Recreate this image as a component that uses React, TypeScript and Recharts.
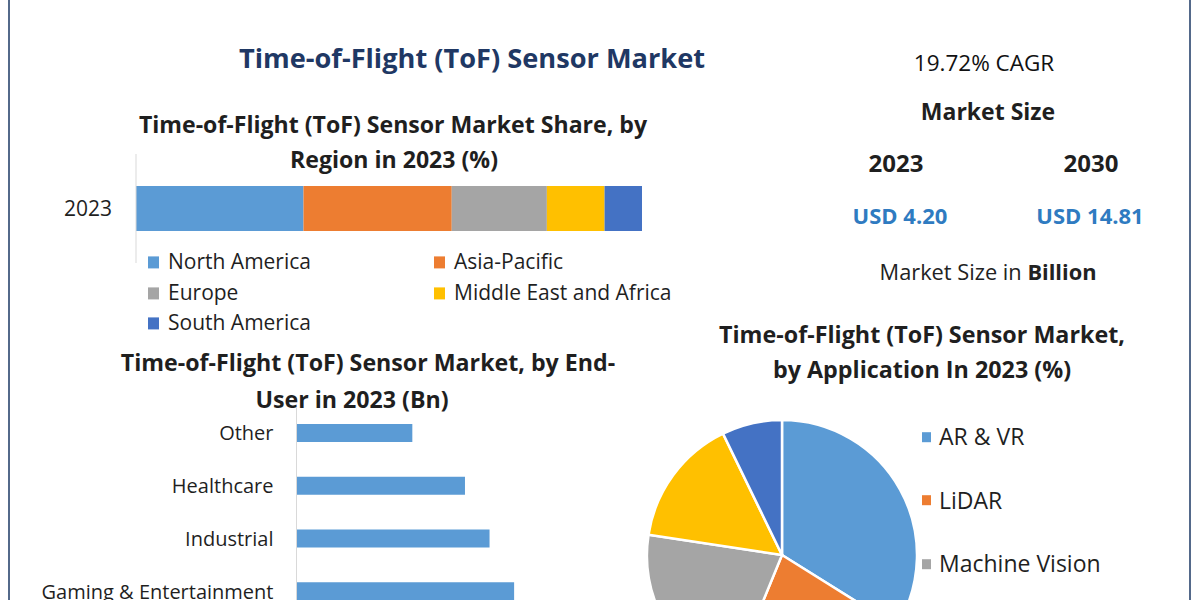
import { BarChart, Bar, XAxis, YAxis, PieChart, Pie, Cell } from "recharts";

// market share by region, 2023 (%)
const regionYears = ["2023"];
const regionNames = ["North America", "Asia-Pacific", "Europe", "Middle East and Africa", "South America"];
const regionShares = [33.1, 29.3, 18.8, 11.4, 7.4];

// end-user market in 2023 (Bn)
const endUsers = ["Other", "Healthcare", "Industrial", "Gaming & Entertainment"];
const endUserValues = [0.33, 0.48, 0.55, 0.62];

// application share in 2023 (%)
const applications = ["AR & VR", "LiDAR", "Machine Vision", "3D Imaging & Scanning", "Robotics & Drone"];
const applicationShares = [33.9, 22.3, 21.2, 15.4, 7.2];

const marketYears = ["2023", "2030"];
const marketSizes = ["USD 4.20", "USD 14.81"];
const cagrText = "19.72% CAGR";

const palette = ["#5B9BD5", "#ED7D31", "#A5A5A5", "#FFC000", "#4472C4"];
const font = "'Open Sans', 'Noto Sans', sans-serif";
const textColor = "#1f1f1f";

const regionData = regionYears.map((year) => {
  const row: Record<string, string | number> = { year };
  regionShares.forEach((v, i) => (row[`r${i}`] = v));
  return row;
});
const endUserData = endUsers.map((name, i) => ({ name, value: endUserValues[i] }));
const applicationData = applications.map((name, i) => ({ name, value: applicationShares[i] }));

function Label({ x, y, size, weight = 700, color = textColor, children }: any) {
  return (
    <div
      style={{
        position: "absolute",
        left: x,
        top: y,
        transform: "translate(-50%, -50%)",
        fontSize: size,
        fontWeight: weight,
        color,
        whiteSpace: "nowrap",
        lineHeight: 1.2,
      }}
    >
      {children}
    </div>
  );
}

function LegendItem({ x, y, color, label, size = 19, box = [11, 12], gap = 9 }: any) {
  return (
    <div style={{ position: "absolute", left: x, top: y, transform: "translateY(-50%)", display: "flex", alignItems: "center" }}>
      <span style={{ width: box[0], height: box[1], background: color, marginRight: gap, display: "inline-block" }} />
      <span style={{ fontSize: size, color: textColor, lineHeight: 1.2, whiteSpace: "nowrap" }}>{label}</span>
    </div>
  );
}

export default function App() {
  const regionLegendPos = [
    [148, 262],
    [434, 262],
    [148, 293],
    [434, 293],
    [148, 323],
  ];
  return (
    <div
      style={{
        position: "fixed",
        left: 0,
        top: 0,
        width: 1200,
        height: 600,
        overflow: "hidden",
        background: "#fff",
        fontFamily: font,
      }}
    >
      <div style={{ position: "absolute", left: 8, top: 0, width: 2, height: 600, background: "#53698a" }} />
      <div style={{ position: "absolute", left: 1189, top: 0, width: 2, height: 600, background: "#53698a" }} />

      <Label x={472} y={58} size={27.2} color="#1f3864">
        Time-of-Flight (ToF) Sensor Market
      </Label>

      {/* key figures */}
      <Label x={984} y={62} size={22.5} weight={500} color="#111">
        {cagrText}
      </Label>
      <Label x={988} y={112} size={23}>
        Market Size
      </Label>
      <Label x={896} y={163} size={24}>
        {marketYears[0]}
      </Label>
      <Label x={1091} y={163} size={24}>
        {marketYears[1]}
      </Label>
      <Label x={900} y={215} size={22} color="#2f7bc1">
        {marketSizes[0]}
      </Label>
      <Label x={1090} y={215} size={22} color="#2f7bc1">
        {marketSizes[1]}
      </Label>
      <Label x={988} y={272} size={21.8} weight={400} color="#222">
        Market Size in <b>Billion</b>
      </Label>

      {/* region share */}
      <Label x={393} y={125} size={23.1}>
        Time-of-Flight (ToF) Sensor Market Share, by
      </Label>
      <Label x={394} y={160} size={23.1}>
        Region in 2023 (%)
      </Label>
      <div style={{ position: "absolute", left: 0, top: 144 }}>
        <BarChart
          width={660}
          height={130}
          layout="vertical"
          data={regionData}
          margin={{ top: 10, right: 18, bottom: 11, left: 0 }}
        >
          <XAxis type="number" domain={[0, 100]} hide />
          <YAxis
            type="category"
            dataKey="year"
            width={136}
            axisLine={{ stroke: "#d9d9d9" }}
            tickLine={false}
            tickSize={0}
            tickMargin={24}
            tick={{ fill: textColor, fontSize: 21, fontFamily: font }}
          />
          {regionNames.map((n, i) => (
            <Bar key={n} dataKey={`r${i}`} name={n} stackId="a" fill={palette[i]} barSize={45} isAnimationActive={false} />
          ))}
        </BarChart>
      </div>
      {regionNames.map((n, i) => (
        <LegendItem key={n} x={regionLegendPos[i][0]} y={regionLegendPos[i][1]} color={palette[i]} label={n} size={21} />
      ))}

      {/* end-user bars */}
      <Label x={368} y={363} size={23.2}>
        Time-of-Flight (ToF) Sensor Market, by End-
      </Label>
      <Label x={352} y={400} size={23.2}>
        User in 2023 (Bn)
      </Label>
      <div style={{ position: "absolute", left: 10, top: 397 }}>
        <BarChart
          width={660}
          height={221}
          layout="vertical"
          data={endUserData}
          margin={{ top: 10, right: 22.5, bottom: 0, left: 0 }}
        >
          <XAxis type="number" domain={[0, 1]} hide />
          <YAxis
            type="category"
            dataKey="name"
            width={286.5}
            axisLine={{ stroke: "#d9d9d9" }}
            tickLine={false}
            tickSize={0}
            tickMargin={23}
            tick={{ fill: textColor, fontSize: 20, fontFamily: font }}
          />
          <Bar dataKey="value" fill={palette[0]} barSize={18} isAnimationActive={false} />
        </BarChart>
      </div>

      {/* application pie */}
      <Label x={922} y={335} size={23.3}>
        Time-of-Flight (ToF) Sensor Market,
      </Label>
      <Label x={922} y={370} size={23.3}>
        by Application In 2023 (%)
      </Label>
      <div style={{ position: "absolute", left: 640, top: 410 }}>
        <PieChart width={290} height={290} margin={{ top: 0, right: 0, bottom: 0, left: 0 }}>
          <Pie
            data={applicationData}
            dataKey="value"
            nameKey="name"
            cx={142}
            cy={145}
            outerRadius={135}
            startAngle={90}
            endAngle={-270}
            stroke="#fff"
            strokeWidth={2.5}
            isAnimationActive={false}
          >
            {applicationData.map((d, i) => (
              <Cell key={d.name} fill={palette[i]} />
            ))}
          </Pie>
        </PieChart>
      </div>
      {applications.map((n, i) =>
        437 + i * 63.5 < 600 ? (
          <LegendItem key={n} x={922} y={437 + i * 63.5} color={palette[i]} label={n} size={23} box={[9, 10]} gap={8} />
        ) : null
      )}
    </div>
  );
}
